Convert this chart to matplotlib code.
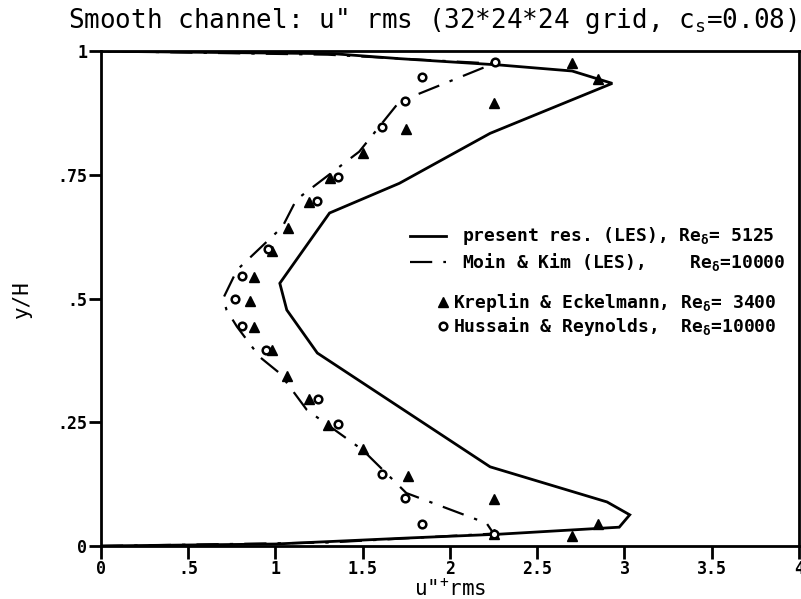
import matplotlib.pyplot as plt

plt.rcParams['font.family'] = 'DejaVu Sans Mono'
plt.rcParams['mathtext.fontset'] = 'custom'
plt.rcParams['mathtext.rm'] = 'DejaVu Sans Mono'
plt.rcParams['mathtext.it'] = 'DejaVu Sans Mono'
plt.rcParams['mathtext.bf'] = 'DejaVu Sans Mono:bold'
plt.rcParams['mathtext.default'] = 'regular'

# present LES (solid line)
les_u = [0.0, 1.0, 1.75, 2.29, 2.97, 3.03, 2.90, 2.23, 1.24, 1.065, 1.025,
         1.31, 1.71, 2.23, 2.93, 2.70, 2.29, 1.71, 1.33, 0.0]
les_y = [0.0, 0.004, 0.016, 0.024, 0.038, 0.063, 0.089, 0.16, 0.39, 0.477, 0.531,
         0.673, 0.733, 0.834, 0.935, 0.96, 0.972, 0.985, 0.995, 1.0]

# Moin & Kim LES (dash-dot line)
mk_u = [0.0, 1.3, 2.25, 2.21, 1.75, 1.50, 1.18, 1.025, 0.91, 0.78, 0.72, 0.70,
        0.78, 1.04, 1.12, 1.48, 1.71, 2.25, 1.3, 0.0]
mk_y = [0.0, 0.007, 0.025, 0.046, 0.107, 0.194, 0.275, 0.349, 0.382, 0.443, 0.477, 0.50,
        0.558, 0.645, 0.70, 0.797, 0.898, 0.975, 0.993, 1.0]

# Kreplin & Eckelmann (triangles)
ke_u = [2.70, 2.85, 2.25, 1.75, 1.50, 1.31, 1.19, 1.07, 0.98, 0.876, 0.853,
        0.876, 0.98, 1.065, 1.19, 1.30, 1.50, 1.76, 2.25, 2.25, 2.85, 2.70]
ke_y = [0.976, 0.943, 0.895, 0.842, 0.794, 0.743, 0.695, 0.643, 0.596, 0.543, 0.495,
        0.442, 0.396, 0.343, 0.297, 0.244, 0.196, 0.141, 0.095, 0.024, 0.044, 0.020]

# Hussain & Reynolds (circles)
hr_u = [2.26, 1.84, 1.74, 1.61, 1.36, 1.24, 0.96, 0.81, 0.77,
        0.81, 0.945, 1.245, 1.36, 1.61, 1.74, 1.84, 2.25]
hr_y = [0.978, 0.948, 0.899, 0.846, 0.746, 0.697, 0.600, 0.545, 0.499,
        0.445, 0.397, 0.297, 0.246, 0.145, 0.097, 0.044, 0.025]

xticks = [0, 0.5, 1, 1.5, 2, 2.5, 3, 3.5, 4]
xtick_labels = ['0', '.5', '1', '1.5', '2', '2.5', '3', '3.5', '4']
yticks = [0, 0.25, 0.5, 0.75, 1]
ytick_labels = ['0', '.25', '.5', '.75', '1']

DASHDOT = (10, 5, 1.5, 5)
TRI = dict(ls='none', marker='^', ms=6.5, color='black')
CIRC = dict(ls='none', marker='o', ms=5.5, mfc='white', mec='black', mew=1.8)

fig = plt.figure(figsize=(8.01, 5.99), dpi=100)
ax = fig.add_axes([0.126, 0.0885, 0.8715, 0.826])

ax.plot(les_u, les_y, color='black', lw=2.0, solid_joinstyle='miter')
ax.plot(mk_u, mk_y, color='black', lw=1.6, dashes=DASHDOT)
ax.plot(ke_u, ke_y, **TRI)
ax.plot(hr_u, hr_y, **CIRC)

ax.set_xlim(0, 4)
ax.set_ylim(0, 1)
ax.set_xticks(xticks)
ax.set_xticklabels(xtick_labels, fontweight='bold', fontsize=12)
ax.set_yticks(yticks)
ax.set_yticklabels(ytick_labels, fontweight='bold', fontsize=12)
ax.tick_params(direction='out', length=9, width=2, pad=1)
for s in ax.spines.values():
    s.set_linewidth(2)

ax.set_xlabel('u"$^{+}$rms', fontsize=15, labelpad=0)
ax.set_ylabel('y/H', fontsize=15, labelpad=18)
fig.text(0.54, 0.965, 'Smooth channel: u" rms (32*24*24 grid, $c_s$=0.08)',
         ha='center', va='center', fontsize=18.7)

# legend block, placed in pixel-like axes units
tr = ax.transAxes
def ax_xy(px, py):
    return ((px - 101) / 698.0, (546 - py) / 495.0)

x0, y0 = ax_xy(410, 236)
x1, _ = ax_xy(446, 236)
tx, _ = ax_xy(462, 0)
ax.plot([x0, x1], [y0, y0], transform=tr, color='black', lw=2.0)
ax.text(tx, y0, 'present res. (LES), Re$_δ$= 5125', transform=tr,
        va='center', fontsize=13, fontweight='bold')

_, y0 = ax_xy(0, 262)
ax.plot([x0, x1], [y0, y0], transform=tr, color='black', lw=1.6, dashes=DASHDOT)
ax.text(tx, y0, 'Moin & Kim (LES),    Re$_δ$=10000', transform=tr,
        va='center', fontsize=13, fontweight='bold')

mx, y0 = ax_xy(443, 302)
tx2, _ = ax_xy(453, 0)
ax.plot([mx], [y0], transform=tr, **TRI)
ax.text(tx2, y0, 'Kreplin & Eckelmann, Re$_δ$= 3400', transform=tr,
        va='center', fontsize=13, fontweight='bold')

_, y0 = ax_xy(0, 326)
ax.plot([mx], [y0], transform=tr, **CIRC)
ax.text(tx2, y0, 'Hussain & Reynolds,  Re$_δ$=10000', transform=tr,
        va='center', fontsize=13, fontweight='bold')

fig.savefig('out.png', dpi=100)
